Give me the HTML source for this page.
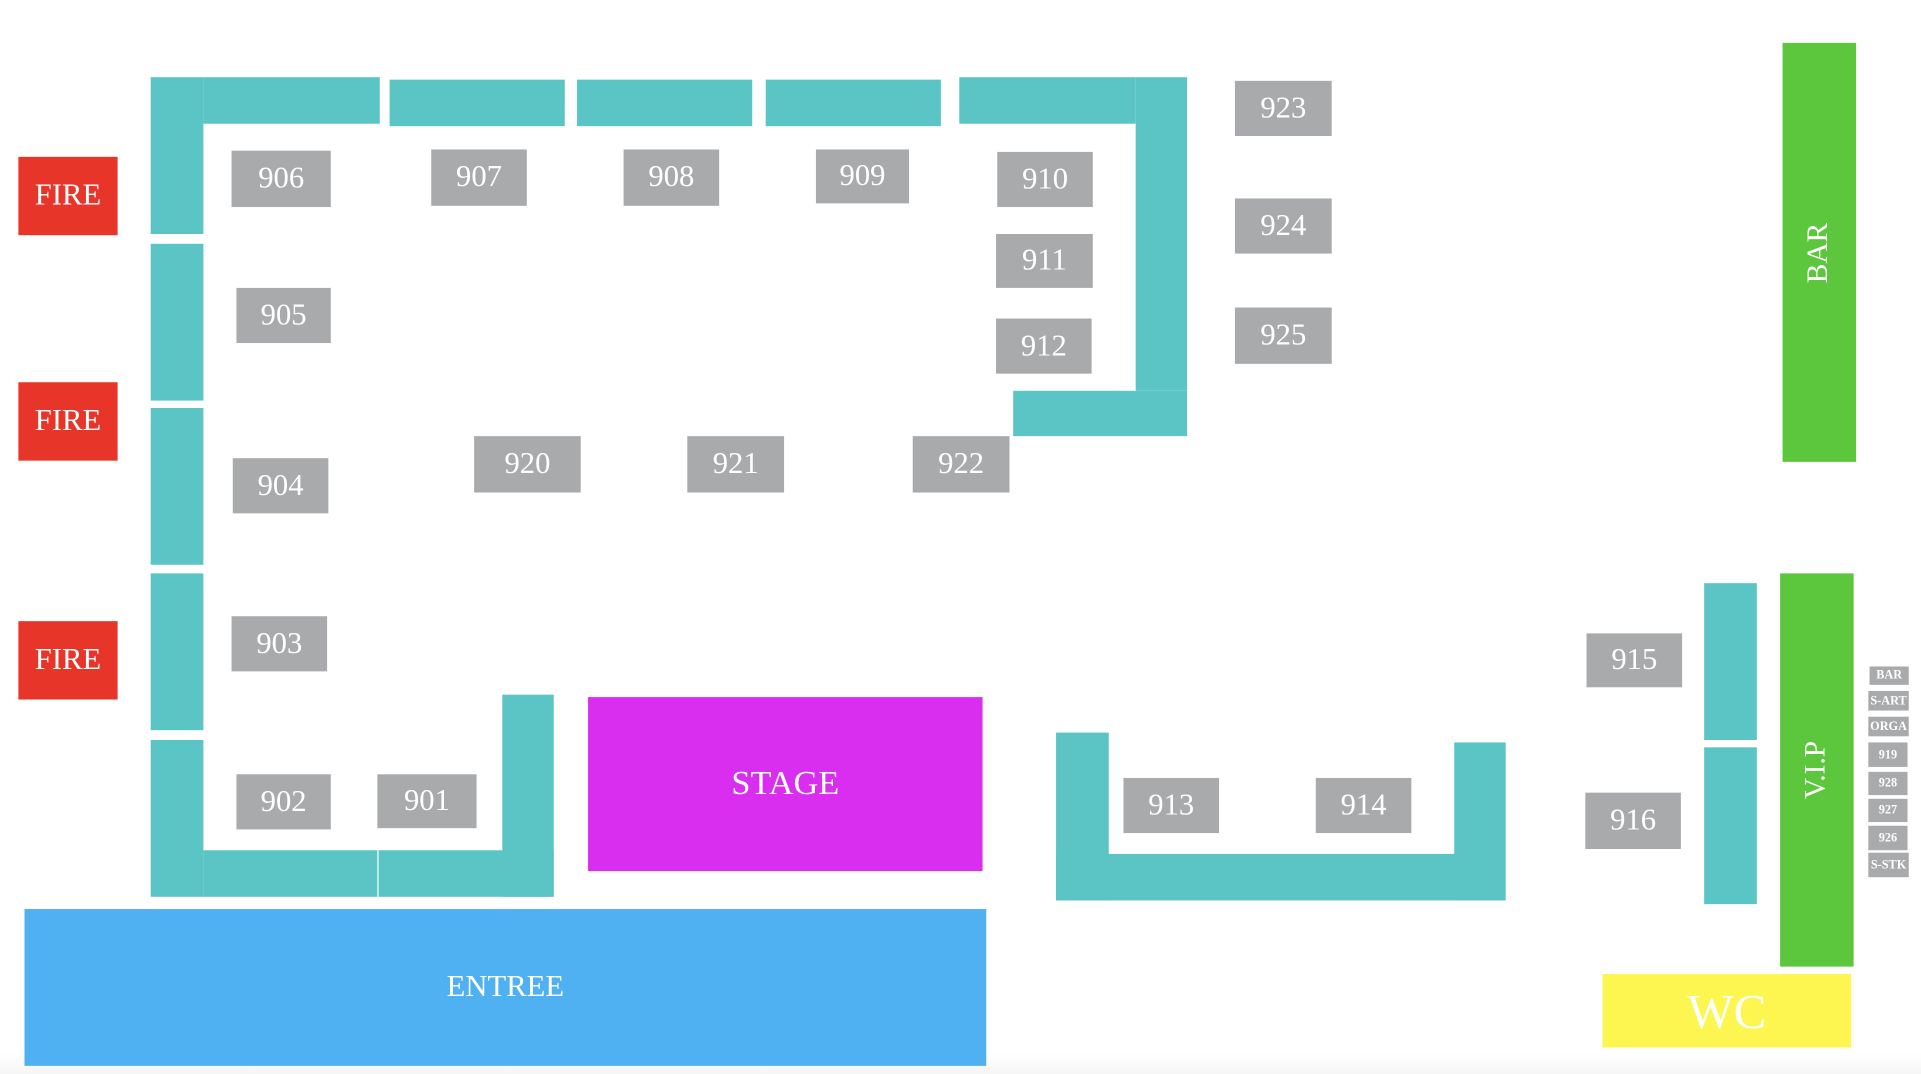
<!DOCTYPE html>
<html><head><style>
html,body{margin:0;padding:0;background:#fff;overflow:hidden}
#w{position:absolute;left:0;top:0;width:1568px;height:877px;transform:scale(1.22513);transform-origin:0 0;font-family:"Liberation Serif",serif;background:linear-gradient(#fff 860px,#f6f6f6 877px)}
#w div{position:absolute;box-sizing:border-box}
.t{background:#5bc5c6}
.g{background:#a9aaac;color:#fff;font-size:25px;display:flex;align-items:center;justify-content:center}
.f{background:#e8352a;color:#fff;font-size:25px;display:flex;align-items:center;justify-content:center}
.s{background:#a9aaac;color:#fff;font-size:10px;font-weight:bold;display:flex;align-items:center;justify-content:center;overflow:hidden;white-space:nowrap}
.v{display:flex;align-items:center;justify-content:center;color:#fff}
.v span{transform:rotate(-90deg);white-space:nowrap}
</style></head><body><div id="w">
<div class="f" style="left:15px;top:128px;width:81px;height:64px">FIRE</div>
<div class="f" style="left:15px;top:312px;width:81px;height:64px">FIRE</div>
<div class="f" style="left:15px;top:507px;width:81px;height:64px">FIRE</div>

<div class="t" style="left:123px;top:63px;width:43px;height:128px"></div>
<div class="t" style="left:123px;top:199px;width:43px;height:128px"></div>
<div class="t" style="left:123px;top:333px;width:43px;height:128px"></div>
<div class="t" style="left:123px;top:468px;width:43px;height:128px"></div>
<div class="t" style="left:123px;top:604px;width:43px;height:128px"></div>
<div class="t" style="left:166px;top:63px;width:144px;height:38px"></div>
<div class="t" style="left:318px;top:65px;width:143px;height:38px"></div>
<div class="t" style="left:471px;top:65px;width:143px;height:38px"></div>
<div class="t" style="left:625px;top:65px;width:143px;height:38px"></div>
<div class="t" style="left:783px;top:63px;width:144px;height:38px"></div>
<div class="t" style="left:927px;top:63px;width:42px;height:256px"></div>
<div class="t" style="left:827px;top:319px;width:142px;height:37px"></div>
<div class="t" style="left:166px;top:694px;width:142px;height:38px"></div>
<div class="t" style="left:309px;top:694px;width:143px;height:38px"></div>
<div class="t" style="left:410px;top:567px;width:42px;height:165px"></div>
<div class="t" style="left:862px;top:598px;width:43px;height:137px"></div>
<div class="t" style="left:862px;top:697px;width:366px;height:38px"></div>
<div class="t" style="left:1187px;top:606px;width:42px;height:129px"></div>
<div class="t" style="left:1391px;top:476px;width:43px;height:128px"></div>
<div class="t" style="left:1391px;top:610px;width:43px;height:128px"></div>

<div class="v" style="left:480px;top:569px;width:322px;height:142px;background:#d92ef0;font-size:28px">STAGE</div>
<div class="v" style="left:20px;top:742px;width:785px;height:128px;background:#4fb0f2;font-size:25px">ENTREE</div>
<div class="v" style="left:1455px;top:35px;width:60px;height:342px;background:#5cc73c;font-size:24px"><span>BAR</span></div>
<div class="v" style="left:1453px;top:468px;width:60px;height:321px;background:#5cc73c;font-size:24px"><span>V.I.P</span></div>
<div class="v" style="left:1308px;top:795px;width:203px;height:60px;background:#fdf650;font-size:40px">WC</div>

<div class="g" style="left:189px;top:123px;width:81px;height:46px">906</div>
<div class="g" style="left:352px;top:122px;width:78px;height:46px">907</div>
<div class="g" style="left:509px;top:122px;width:78px;height:46px">908</div>
<div class="g" style="left:666px;top:122px;width:76px;height:44px">909</div>
<div class="g" style="left:814px;top:124px;width:78px;height:45px">910</div>
<div class="g" style="left:813px;top:191px;width:79px;height:44px">911</div>
<div class="g" style="left:813px;top:260px;width:78px;height:45px">912</div>
<div class="g" style="left:193px;top:235px;width:77px;height:45px">905</div>
<div class="g" style="left:190px;top:374px;width:78px;height:45px">904</div>
<div class="g" style="left:189px;top:503px;width:78px;height:45px">903</div>
<div class="g" style="left:193px;top:632px;width:77px;height:45px">902</div>
<div class="g" style="left:308px;top:632px;width:81px;height:44px">901</div>
<div class="g" style="left:387px;top:356px;width:87px;height:46px">920</div>
<div class="g" style="left:561px;top:356px;width:79px;height:46px">921</div>
<div class="g" style="left:745px;top:356px;width:79px;height:46px">922</div>
<div class="g" style="left:1008px;top:66px;width:79px;height:45px">923</div>
<div class="g" style="left:1008px;top:162px;width:79px;height:45px">924</div>
<div class="g" style="left:1008px;top:251px;width:79px;height:46px">925</div>
<div class="g" style="left:917px;top:635px;width:78px;height:45px">913</div>
<div class="g" style="left:1074px;top:635px;width:78px;height:45px">914</div>
<div class="g" style="left:1295px;top:517px;width:78px;height:44px">915</div>
<div class="g" style="left:1294px;top:647px;width:78px;height:46px">916</div>

<div class="s" style="left:1526px;top:544px;width:32px;height:15px">BAR</div>
<div class="s" style="left:1525px;top:564px;width:33px;height:16px">S-ART</div>
<div class="s" style="left:1525px;top:585px;width:33px;height:16px">ORGA</div>
<div class="s" style="left:1525px;top:606px;width:32px;height:20px">919</div>
<div class="s" style="left:1525px;top:630px;width:32px;height:19px">928</div>
<div class="s" style="left:1525px;top:652px;width:32px;height:19px">927</div>
<div class="s" style="left:1525px;top:674px;width:32px;height:20px">926</div>
<div class="s" style="left:1525px;top:696px;width:33px;height:20px">S-STK</div>
</div></body></html>
